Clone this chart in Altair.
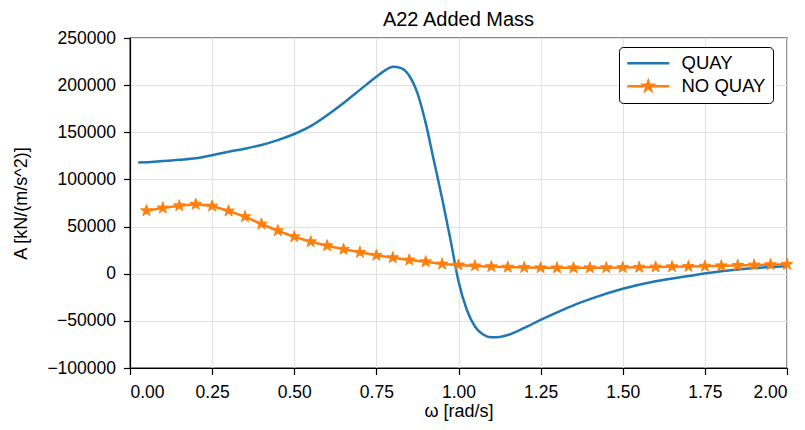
import altair as alt
import pandas as pd

# ---- data ----
series_names = ["QUAY", "NO QUAY"]
series_colors = ["#1f77b4", "#ff7f0e"]

omega_quay = [0.025, 0.05, 0.1, 0.15, 0.2, 0.25, 0.3, 0.35, 0.4, 0.45, 0.5,
              0.55, 0.6, 0.65, 0.7, 0.75, 0.78, 0.8, 0.825, 0.85, 0.875, 0.9,
              0.925, 0.95, 0.975, 1.0, 1.025, 1.05, 1.075, 1.1, 1.125, 1.15,
              1.2, 1.25, 1.3, 1.35, 1.4, 1.5, 1.6, 1.7, 1.8, 1.9, 2.0]
a_quay = [118000, 118200, 119500, 120800, 122400, 125700, 129400, 132600,
          136500, 141700, 148200, 156500, 168000, 181000, 195000, 209000,
          216500, 219500, 218000, 210000, 191500, 160000, 120000, 80000,
          37000, -8000, -38000, -56000, -64500, -67500, -67000, -65000,
          -57500, -49000, -41000, -33500, -27000, -16000, -8000, -2500,
          2500, 6000, 8000]

omega_noquay = [0.05, 0.10, 0.15, 0.20, 0.25, 0.30, 0.35, 0.40, 0.45, 0.50,
                0.55, 0.60, 0.65, 0.70, 0.75, 0.80, 0.85, 0.90, 0.95, 1.00,
                1.05, 1.10, 1.15, 1.20, 1.25, 1.30, 1.35, 1.40, 1.45, 1.50,
                1.55, 1.60, 1.65, 1.70, 1.75, 1.80, 1.85, 1.90, 1.95, 2.00]
a_noquay = [66800, 69700, 72100, 73600, 71800, 66500, 60500, 52700, 45600,
            39200, 33900, 29700, 25900, 22700, 19500, 17000, 14500, 12700,
            10300, 9300, 8300, 7500, 7000, 6600, 6300, 6200, 6200, 6300, 6400,
            6600, 6800, 7100, 7400, 7700, 8000, 8400, 8800, 9200, 9600, 10000]

x_ticks = [0.0, 0.25, 0.5, 0.75, 1.0, 1.25, 1.5, 1.75, 2.0]
y_ticks = [-100000, -50000, 0, 50000, 100000, 150000, 200000, 250000]

# ---- table ----
df = pd.concat([
    pd.DataFrame({"series": "QUAY", "omega": omega_quay, "A": a_quay}),
    pd.DataFrame({"series": "NO QUAY", "omega": omega_noquay, "A": a_noquay}),
], ignore_index=True)

FONT = "Liberation Sans"
STAR = ("M0,-1L0.2245,-0.309L0.951,-0.309L0.363,0.118L0.588,0.809L0,0.382"
        "L-0.588,0.809L-0.363,0.118L-0.951,-0.309L-0.2245,-0.309Z")
LEG_LINE = "M-3.5,0L3.5,0"
LEG_STAR_SMALL = ("M0,-0.8L0.18,-0.247L0.761,-0.247L0.29,0.094L0.47,0.647L0,0.306"
                  "L-0.47,0.647L-0.29,0.094L-0.761,-0.247L-0.18,-0.247Z")
LEG_STAR = LEG_LINE + LEG_STAR_SMALL

color_scale = alt.Scale(domain=series_names, range=series_colors)

x_enc = alt.X("omega:Q",
              scale=alt.Scale(domain=[0, 2], nice=False, zero=False),
              axis=alt.Axis(values=x_ticks, format=".2f", title="ω [rad/s]",
                            labelPadding=9, titlePadding=1))
y_enc = alt.Y("A:Q",
              scale=alt.Scale(domain=[-100000, 250000], nice=False),
              axis=alt.Axis(values=y_ticks, format="d", title="A [kN/(m/s^2)]",
                            labelPadding=8, titlePadding=16))

base = alt.Chart(df)

line_quay = base.transform_filter(alt.datum.series == "QUAY").mark_line(
    strokeWidth=2.5, color=series_colors[0], interpolate="monotone"
).encode(x=x_enc, y=y_enc)

line_noquay = base.transform_filter(alt.datum.series == "NO QUAY").mark_line(
    strokeWidth=2.5, color=series_colors[1]
).encode(x=x_enc, y=y_enc)

stars = base.transform_filter(alt.datum.series == "NO QUAY").mark_point(
    shape=STAR, size=150, fill=series_colors[1], stroke=series_colors[1],
    strokeWidth=1, opacity=1, fillOpacity=1,
).encode(x=x_enc, y=y_enc)

leg = alt.Legend(
    title=None, orient="none", legendX=489, legendY=9,
    labelFont=FONT, labelFontSize=18.5, labelColor="black",
    symbolSize=144, symbolStrokeWidth=2.5, symbolOffset=13, labelOffset=24,
    symbolOpacity=1, padding=7, rowPadding=3,
    strokeColor="black", fillColor="white", cornerRadius=4,
)

legend_layer = base.mark_point(filled=True, opacity=0, strokeWidth=2.5).encode(
    x=x_enc, y=y_enc,
    color=alt.Color("series:N", scale=color_scale, legend=leg),
    stroke=alt.Stroke("series:N", scale=color_scale, legend=leg),
    shape=alt.Shape("series:N",
                    scale=alt.Scale(domain=series_names, range=[LEG_LINE, LEG_STAR]),
                    legend=leg),
)

chart = alt.layer(line_quay, line_noquay, stars, legend_layer).properties(
    width=657, height=330,
    title=alt.Title("A22 Added Mass", font=FONT, fontSize=20, fontWeight="normal",
                    color="black", offset=1, dy=2),
    autosize=alt.AutoSizeParams(type="none"),
    padding={"left": 122, "top": 30, "right": 10, "bottom": 54},
).configure_view(
    stroke="#111111", strokeWidth=1.3,
).configure_axis(
    labelFont=FONT, labelFontSize=17.5, labelColor="black",
    titleFont=FONT, titleFontSize=18, titleFontWeight="normal", titleColor="black",
    domainColor="black", domainWidth=1.2, tickColor="black", tickWidth=1.2,
    tickSize=6.5, grid=True, gridColor="#e2e2e2", gridWidth=1,
)

chart.save("out.html", embed_options={"renderer": "svg", "actions": False})
